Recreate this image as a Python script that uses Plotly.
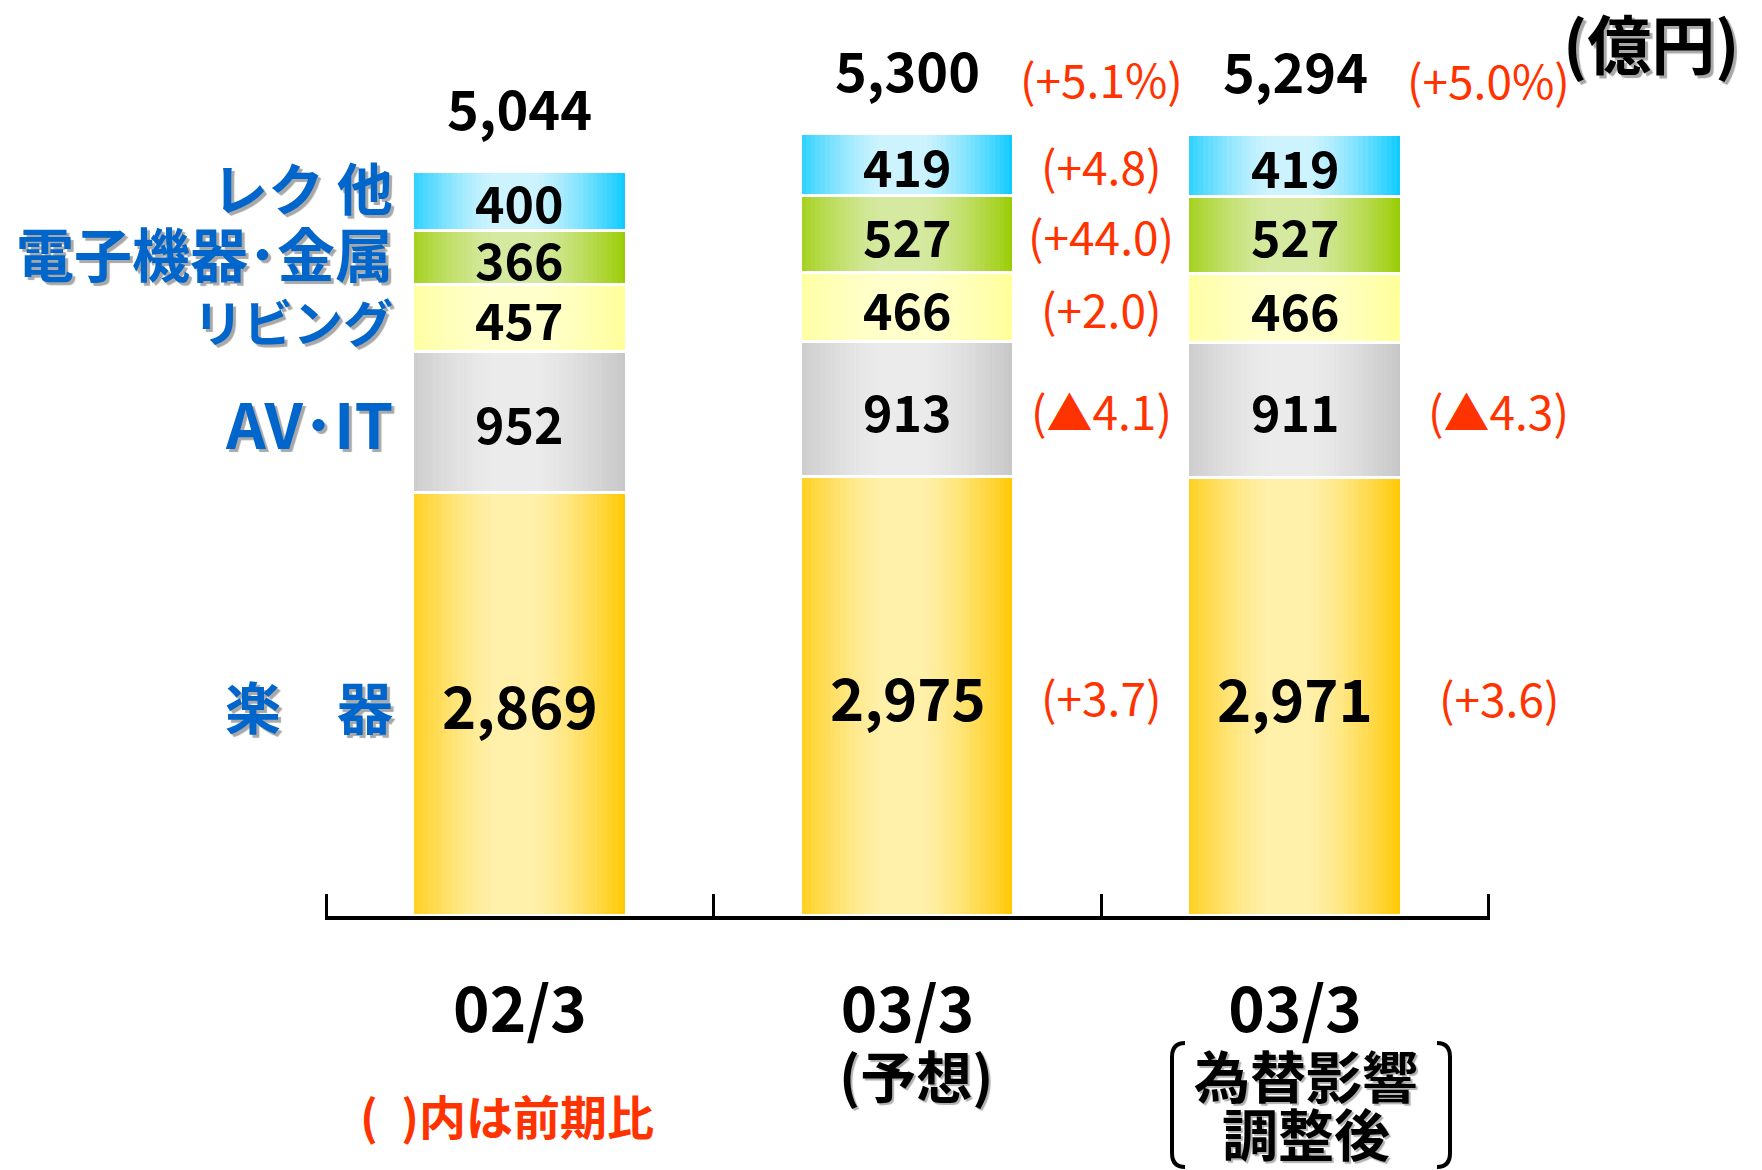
import plotly.graph_objects as go

# ---------------- data ----------------
categories = ["02/3", "03/3（予想）", "03/3（為替影響調整後）"]
tick_labels = ["02/3", "03/3", "03/3"]
note_lines = [[], ["(予想)"], ["為替影響", "調整後"]]

segments = ["楽　器", "AV･IT", "リビング", "電子機器･金属", "レク 他"]
musical = [2869, 2975, 2971]
av_it = [952, 913, 911]
living = [457, 466, 466]
electronics = [366, 527, 527]
recreation = [400, 419, 419]
totals = [5044, 5300, 5294]

yoy_musical = ["", "(+3.7)", "(+3.6)"]
yoy_av_it = ["", "(▲4.1)", "(▲4.3)"]
yoy_living = ["", "(+2.0)", ""]
yoy_electronics = ["", "(+44.0)", ""]
yoy_recreation = ["", "(+4.8)", ""]
yoy_total = ["", "(+5.1%)", "(+5.0%)"]

unit_label = "(億円)"
note_label = "(\u2002)内は前期比"

# ---------------- styles ----------------
FONT = "Noto Sans CJK JP"
BLUE = "#0066CC"
RED = "#FF3300"
seg_values = [musical, av_it, living, electronics, recreation]
seg_yoy = [yoy_musical, yoy_av_it, yoy_living, yoy_electronics, yoy_recreation]
seg_edge = ["#FFC800", "#C6C6C6", "#FFFF99", "#99CC00", "#08CAFF"]
seg_center = ["#FFF0AA", "#EBEBEB", "#FFFFCC", "#D5E9A0", "#CDF3FF"]
seg_label_yshift = [0, 0, -2, 6, 16]
seg_label_size = [56, 62, 50, 58, 56]
value_font_size = [58, 50, 50, 50, 50]
yoy_xshift = [0, 0, 10]
BAR_W = 0.55
N_STRIPS = 44


def hex_rgb(h):
    h = h.lstrip("#")
    return tuple(int(h[i:i + 2], 16) for i in (0, 2, 4))


def mix(c1, c2, f):
    a, b = hex_rgb(c1), hex_rgb(c2)
    return "rgb(%d,%d,%d)" % tuple(round(a[i] + (b[i] - a[i]) * f) for i in range(3))


def profile(t):
    c, p, h = 0.47, 0.09, 0.44
    s = (abs(t - c) - p) / h
    s = max(0.0, min(1.0, s))
    return 1 - s ** 1.4


# stacked bases
bases = []
run = [0, 0, 0]
for vals in seg_values:
    bases.append(list(run))
    run = [run[i] + vals[i] for i in range(3)]

xs, ys, bs = [], [], []
for si, vals in enumerate(seg_values):
    for i in range(3):
        xs.append(categories[i])
        ys.append(vals[i])
        bs.append(bases[si][i])

fig = go.Figure()
w = BAR_W / N_STRIPS
for k in range(N_STRIPS):
    t = (k + 0.5) / N_STRIPS
    f = profile(t)
    cols = []
    for si in range(len(seg_values)):
        cols += [mix(seg_edge[si], seg_center[si], f)] * 3
    fig.add_trace(go.Bar(
        x=xs, y=ys, base=bs,
        offset=-BAR_W / 2 + k * w,
        width=w * (1.25 if k < N_STRIPS - 1 else 1.0),
        marker=dict(color=cols, line=dict(width=0)),
        hoverinfo="skip", showlegend=False,
    ))

# white separators between segments
fig.add_trace(go.Bar(
    x=xs, y=ys, base=bs, offset=-BAR_W / 2, width=BAR_W,
    marker=dict(color="rgba(0,0,0,0)", line=dict(color="white", width=3)),
    hoverinfo="skip", showlegend=False,
))

ann = []
# values inside bars, yoy labels
for si, vals in enumerate(seg_values):
    for i in range(3):
        mid = bases[si][i] + vals[i] / 2
        ann.append(dict(x=i, y=mid, text=f"{vals[i]:,}", showarrow=False,
                        xanchor="center", yanchor="middle",
                        font=dict(family=FONT, size=value_font_size[si], color="black", weight="bold")))
        if seg_yoy[si][i]:
            ann.append(dict(x=i + 0.5, y=mid, text=seg_yoy[si][i], showarrow=False,
                            xanchor="center", yanchor="middle", xshift=yoy_xshift[i],
                            font=dict(family=FONT, size=46, color=RED)))
    # segment names at left of first bar
    ann.append(dict(x=-BAR_W / 2, y=bases[si][0] + vals[0] / 2, text=segments[si],
                    showarrow=False, xanchor="right", yanchor="middle", xshift=-18,
                    yshift=seg_label_yshift[si],
                    font=dict(family=FONT, size=seg_label_size[si], color=BLUE, weight="bold",
                              shadow="3px 3px 1px #A8A8A8")))

# totals
for i in range(3):
    ann.append(dict(x=i, y=totals[i], text=f"{totals[i]:,}", showarrow=False,
                    xanchor="center", yanchor="middle", yshift=65,
                    font=dict(family=FONT, size=54, color="black", weight="bold")))
    if yoy_total[i]:
        ann.append(dict(x=i + 0.5, y=totals[i], text=yoy_total[i], showarrow=False,
                        xanchor="center", yanchor="middle", yshift=56,
                        font=dict(family=FONT, size=46, color=RED)))

# notes under category labels
note_xshift = [0, 8, 11]
for i, lines in enumerate(note_lines):
    for j, line in enumerate(lines):
        ann.append(dict(x=i, y=0, text=line, showarrow=False,
                        xanchor="center", yanchor="middle",
                        xshift=note_xshift[i], yshift=-157 - 58 * j,
                        font=dict(family=FONT, size=56, color="black", weight="bold",
                                  shadow="2px 2px 1px #B0B0B0")))

ann.append(dict(x=0, y=0, text=note_label, showarrow=False, xanchor="center",
                yanchor="middle", xshift=-13, yshift=-198,
                font=dict(family=FONT, size=47, color=RED, weight="bold")))

ann.append(dict(x=2.5, y=max(totals), text=unit_label, showarrow=False, xanchor="center",
                yanchor="middle", xshift=162, yshift=93,
                font=dict(family=FONT, size=64, color="black", weight="bold",
                          shadow="3px 3px 1px #A8A8A8")))

# page is drawn with an 8px body margin -> figure coordinates
OFF = 8
L, R, T, B = 325 - OFF, 1490 - OFF, 60 - OFF, 916 - OFF


def px(xp):
    return (xp - OFF - L) / (R - L)


def py(yp):
    return (B - (yp - OFF)) / (B - T)


# bracket around third note (decorative), page-pixel positions -> paper coords
bx0, bx1, by0, by1, hk, rr = 1172, 1450, 1043, 1167, 13, 14
left = (f"M {px(bx0 + hk)},{py(by0)} Q {px(bx0)},{py(by0)} {px(bx0)},{py(by0 + rr)} "
        f"L {px(bx0)},{py(by1 - rr)} Q {px(bx0)},{py(by1)} {px(bx0 + hk)},{py(by1)}")
right = (f"M {px(bx1 - hk)},{py(by0)} Q {px(bx1)},{py(by0)} {px(bx1)},{py(by0 + rr)} "
         f"L {px(bx1)},{py(by1 - rr)} Q {px(bx1)},{py(by1)} {px(bx1 - hk)},{py(by1)}")
shapes = [dict(type="path", xref="paper", yref="paper", path=p,
               line=dict(color="black", width=4)) for p in (left, right)]

fig.update_layout(
    width=1762, height=1170,
    margin=dict(l=L, r=1762 - R, t=T, b=1170 - B),
    barmode="overlay", bargap=0,
    showlegend=False,
    plot_bgcolor="white", paper_bgcolor="white",
    annotations=ann, shapes=shapes,
)
fig.update_xaxes(
    type="category", categoryorder="array", categoryarray=categories,
    tickmode="array", tickvals=categories, ticktext=tick_labels,
    tickson="boundaries", ticks="inside", ticklen=22, tickwidth=3, tickcolor="black",
    showline=True, linecolor="black", linewidth=4, showgrid=False, zeroline=False,
    range=[-0.503, 2.503], ticklabelstandoff=38,
    tickfont=dict(family=FONT, size=62, color="black", weight="bold"),
)
fig.update_yaxes(range=[0, 5800], visible=False)

fig.write_html("out.html")
